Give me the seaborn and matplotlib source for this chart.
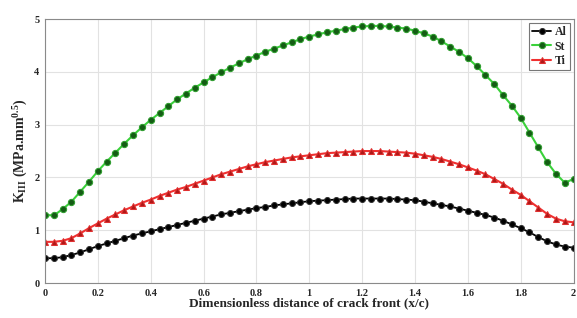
import matplotlib
import numpy as np
import pandas as pd
import seaborn as sns
matplotlib.use("Agg")
import matplotlib.pyplot as plt

# x/c positions along the crack front (61 stations from 0 to 2)
x_c = np.linspace(0, 2, 61)

k_al = [0.47, 0.47, 0.49, 0.53, 0.58, 0.64, 0.70, 0.75, 0.80, 0.85,
        0.90, 0.94, 0.98, 1.02, 1.06, 1.10, 1.14, 1.18, 1.22, 1.26,
        1.30, 1.33, 1.36, 1.39, 1.42, 1.44, 1.47, 1.49, 1.51, 1.53,
        1.55, 1.56, 1.57, 1.58, 1.59, 1.60, 1.60, 1.60, 1.60, 1.60,
        1.59, 1.58, 1.57, 1.54, 1.51, 1.48, 1.45, 1.41, 1.37, 1.33,
        1.29, 1.24, 1.18, 1.11, 1.04, 0.96, 0.87, 0.79, 0.73, 0.69,
        0.67]

k_st = [1.29, 1.28, 1.40, 1.54, 1.73, 1.92, 2.12, 2.30, 2.47, 2.64,
        2.80, 2.95, 3.09, 3.22, 3.35, 3.48, 3.59, 3.70, 3.80, 3.90,
        3.99, 4.08, 4.16, 4.24, 4.31, 4.38, 4.44, 4.50, 4.56, 4.62,
        4.67, 4.71, 4.75, 4.78, 4.81, 4.84, 4.86, 4.87, 4.87, 4.86,
        4.84, 4.82, 4.78, 4.73, 4.67, 4.58, 4.48, 4.38, 4.26, 4.11,
        3.94, 3.77, 3.56, 3.36, 3.13, 2.85, 2.57, 2.29, 2.07, 1.90,
        1.97]

k_ti = [0.78, 0.78, 0.80, 0.85, 0.94, 1.04, 1.13, 1.22, 1.30, 1.38,
        1.45, 1.52, 1.58, 1.65, 1.71, 1.77, 1.82, 1.88, 1.94, 2.00,
        2.06, 2.11, 2.16, 2.21, 2.25, 2.29, 2.32, 2.35, 2.38, 2.40,
        2.42, 2.44, 2.46, 2.47, 2.48, 2.49, 2.50, 2.50, 2.50, 2.49,
        2.48, 2.47, 2.45, 2.42, 2.39, 2.35, 2.30, 2.25, 2.19, 2.13,
        2.06, 1.97, 1.88, 1.77, 1.67, 1.55, 1.43, 1.31, 1.22, 1.17,
        1.15]

x_ticks = [0, 0.2, 0.4, 0.6, 0.8, 1.0, 1.2, 1.4, 1.6, 1.8, 2.0]
x_tick_labels = ["0", "0.2", "0.4", "0.6", "0.8", "1", "1.2", "1.4", "1.6", "1.8", "2"]
y_ticks = [0, 1, 2, 3, 4, 5]

sns.set_theme(style="whitegrid")
plt.rcParams["font.family"] = ["Liberation Serif", "DejaVu Serif"]
plt.rcParams["font.weight"] = "bold"
plt.rcParams["mathtext.fontset"] = "custom"
plt.rcParams["mathtext.rm"] = "Liberation Serif:bold"
plt.rcParams["mathtext.it"] = "Liberation Serif:bold"
plt.rcParams["mathtext.bf"] = "Liberation Serif:bold"

df = pd.DataFrame({"x": x_c, "Al": k_al, "St": k_st, "Ti": k_ti})

fig = plt.figure(figsize=(5.77, 3.18), dpi=100)
ax = fig.add_axes([0.078, 0.110, 0.916, 0.830])

sns.lineplot(data=df, x="x", y="Al", ax=ax, color="black", lw=1.3,
             marker="o", markersize=4.3, markerfacecolor="black",
             markeredgecolor="#333333", label="Al")
sns.lineplot(data=df, x="x", y="St", ax=ax, color="#3ad13a", lw=1.5,
             marker="o", markersize=4.5, markerfacecolor="#145c14",
             markeredgecolor="#2f9e2f", label="St")
sns.lineplot(data=df, x="x", y="Ti", ax=ax, color="#f03030", lw=1.5,
             marker="^", markersize=4.5, markerfacecolor="#b01818",
             markeredgecolor="#e03030", label="Ti")

ax.set_xlim(0, 2)
ax.set_ylim(0, 5)
ax.set_xticks(x_ticks)
ax.set_xticklabels(x_tick_labels)
ax.set_yticks(y_ticks)
ax.tick_params(axis="both", labelsize=7.5, direction="in", length=3,
               color="#555555", pad=4)
for lbl in ax.get_xticklabels() + ax.get_yticklabels():
    lbl.set_fontweight("bold")

ax.grid(True, color="#e2e2e2", lw=0.8)
for s in ax.spines.values():
    s.set_color("#8a8a8a")
    s.set_linewidth(0.8)

ax.set_xlabel("Dimensionless distance of crack front (x/c)", fontsize=9.5,
              fontweight="bold", labelpad=0)
ax.set_ylabel(r"K$_{\rm III}$ (MPa.mm$^{0.5}$)", fontsize=10,
              fontweight="bold", labelpad=3)

leg = ax.legend(loc="upper right", fontsize=8.5, frameon=True, fancybox=False,
                borderaxespad=0.3, handlelength=1.6, handletextpad=0.3,
                borderpad=0.3, labelspacing=0.2)
leg.get_frame().set_edgecolor("#555555")
leg.get_frame().set_linewidth(0.8)
for t in leg.get_texts():
    t.set_fontweight("bold")

fig.savefig("out.png", dpi=100)
